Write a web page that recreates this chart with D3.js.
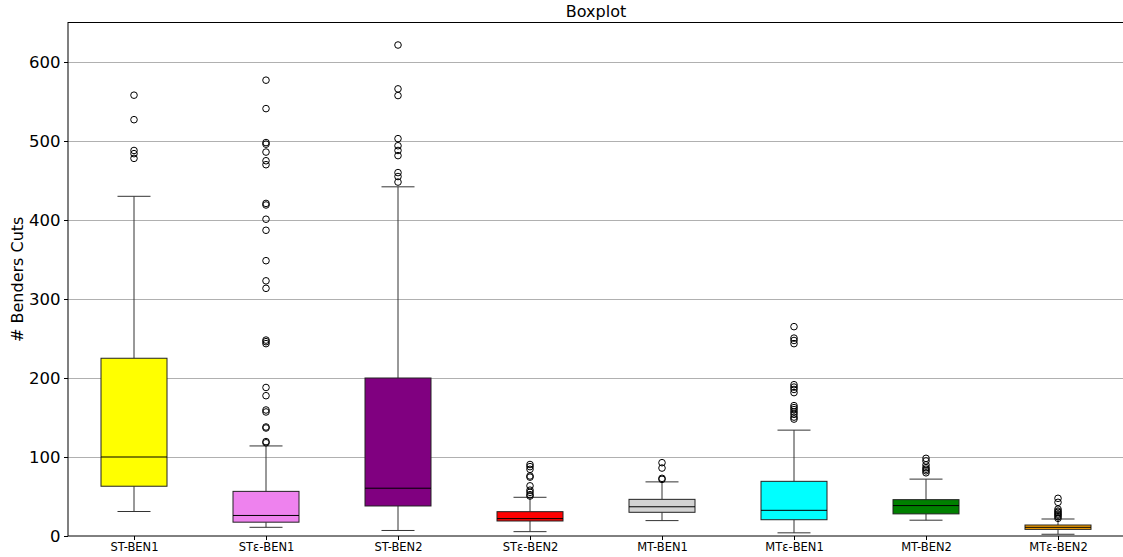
<!DOCTYPE html>
<html>
<head>
<meta charset="utf-8">
<script src="https://cdn.jsdelivr.net/npm/d3@7"></script>
<style>
  html, body { margin: 0; padding: 0; background: #fff; }
  svg { display: block; font-family: "DejaVu Sans", sans-serif; }
</style>
</head>
<body>
<svg id="chart" width="1123" height="557"></svg>
<script>
// Box statistics per method (number of Benders cuts)
const categories   = ["ST-BEN1", "STε-BEN1", "ST-BEN2", "STε-BEN2", "MT-BEN1", "MTε-BEN1", "MT-BEN2", "MTε-BEN2"];
const whiskerLow   = [31, 11, 7, 5.5, 19.5, 4, 20, 2.2];
const quartile1    = [63, 17.5, 38, 19, 30, 20.6, 28, 8.4];
const medians      = [100, 26, 60.5, 22, 37, 32.5, 38.5, 11];
const quartile3    = [225, 56.5, 200, 30.8, 46.4, 69.2, 46, 13.9];
const whiskerHigh  = [430, 114, 442, 49, 68.5, 134, 72, 21.5];
const outliers = [
  [558, 527, 488, 484, 478],
  [577, 541, 498, 496, 486, 475, 470, 421, 419, 401, 387, 348.5, 323, 313.5, 248, 246, 243.5, 188, 177.6, 159.5, 157, 138, 136.7, 119.5, 118],
  [621.5, 566, 557.5, 503, 494, 488, 481.5, 460, 455, 448],
  [90.5, 87.8, 84.4, 76, 74.5, 63.5, 58, 55.3, 52.3, 50.6],
  [92.8, 86, 73, 71.7],
  [265, 250.5, 247.5, 243.5, 191.5, 188.5, 185.5, 181.5, 165, 162.5, 160, 157, 154, 150.5, 148],
  [98.3, 95, 90, 86.5, 84.5, 82.5, 80],
  [47.7, 42.6, 34, 31.5, 30, 28, 26.5, 24.5, 22.4]
];
const boxColors = ["yellow", "violet", "purple", "red", "lightgray", "cyan", "green", "orange"];
const yTicks = [0, 100, 200, 300, 400, 500, 600];

const svg = d3.select("#chart");
const margin = { left: 68, top: 22.5, bottom: 536 };
const plotRight = 1124;

const x = d3.scaleLinear().domain([0.5, categories.length + 0.5]).range([margin.left, plotRight]);
const y = d3.scaleLinear().domain([0, 650]).range([margin.bottom, margin.top]);

const step = x(2) - x(1);
const boxW = step * 0.5;
const capW = boxW * 0.5;

// Horizontal grid
svg.append("g")
  .selectAll("line")
  .data(yTicks.filter(t => t > 0))
  .join("line")
  .attr("x1", margin.left).attr("x2", plotRight)
  .attr("y1", d => Math.round(y(d)) + 0.5).attr("y2", d => Math.round(y(d)) + 0.5)
  .attr("stroke", "#b0b0b0").attr("stroke-width", 1);

// Axes
const yAxis = d3.axisLeft(y).tickValues(yTicks).tickSize(4).tickPadding(3.5);
const gy = svg.append("g").attr("transform", `translate(${margin.left},0)`).call(yAxis);
gy.select(".domain").remove();
gy.selectAll("text").attr("font-size", 16.5).attr("font-family", "DejaVu Sans").attr("fill", "#000");
gy.selectAll("line").attr("stroke", "#000");

const xAxis = d3.axisBottom(x)
  .tickValues(d3.range(1, categories.length + 1))
  .tickFormat((d, i) => categories[i])
  .tickSize(4).tickPadding(3);
const gx = svg.append("g").attr("transform", `translate(0,${margin.bottom})`).call(xAxis);
gx.select(".domain").remove();
gx.selectAll("text").attr("font-size", 11.5).attr("font-family", "DejaVu Sans").attr("fill", "#000");
gx.selectAll("line").attr("stroke", "#000");

// Frame
svg.append("rect")
  .attr("x", margin.left).attr("y", margin.top)
  .attr("width", plotRight - margin.left).attr("height", margin.bottom - margin.top)
  .attr("fill", "none").attr("stroke", "#000").attr("stroke-width", 1);

// Boxes
const idx = d3.range(categories.length);
const g = svg.append("g");

// whiskers
g.selectAll(".wlo").data(idx).join("line")
  .attr("x1", i => x(i + 1)).attr("x2", i => x(i + 1))
  .attr("y1", i => y(quartile1[i])).attr("y2", i => y(whiskerLow[i]))
  .attr("stroke", "#333").attr("stroke-width", 1);
g.selectAll(".whi").data(idx).join("line")
  .attr("x1", i => x(i + 1)).attr("x2", i => x(i + 1))
  .attr("y1", i => y(quartile3[i])).attr("y2", i => y(whiskerHigh[i]))
  .attr("stroke", "#333").attr("stroke-width", 1);
// caps
g.selectAll(".clo").data(idx).join("line")
  .attr("x1", i => x(i + 1) - capW / 2).attr("x2", i => x(i + 1) + capW / 2)
  .attr("y1", i => y(whiskerLow[i])).attr("y2", i => y(whiskerLow[i]))
  .attr("stroke", "#333").attr("stroke-width", 1);
g.selectAll(".chi").data(idx).join("line")
  .attr("x1", i => x(i + 1) - capW / 2).attr("x2", i => x(i + 1) + capW / 2)
  .attr("y1", i => y(whiskerHigh[i])).attr("y2", i => y(whiskerHigh[i]))
  .attr("stroke", "#333").attr("stroke-width", 1);
// box body
g.selectAll(".box").data(idx).join("rect")
  .attr("x", i => x(i + 1) - boxW / 2)
  .attr("width", boxW)
  .attr("y", i => y(quartile3[i]))
  .attr("height", i => y(quartile1[i]) - y(quartile3[i]))
  .attr("fill", i => boxColors[i])
  .attr("stroke", "#222").attr("stroke-width", 1);
// medians
g.selectAll(".med").data(idx).join("line")
  .attr("x1", i => x(i + 1) - boxW / 2).attr("x2", i => x(i + 1) + boxW / 2)
  .attr("y1", i => y(medians[i])).attr("y2", i => y(medians[i]))
  .attr("stroke", "#000").attr("stroke-width", 1);
// fliers
idx.forEach(i => {
  g.append("g").selectAll("circle").data(outliers[i]).join("circle")
    .attr("cx", x(i + 1)).attr("cy", d => y(d)).attr("r", 3.3)
    .attr("fill", "none").attr("stroke", "#000").attr("stroke-width", 1);
});

// Title and y label
svg.append("text")
  .attr("x", (margin.left + plotRight) / 2).attr("y", 17)
  .attr("text-anchor", "middle").attr("font-size", 16).attr("fill", "#000")
  .text("Boxplot");
svg.append("text")
  .attr("transform", `translate(23,${(margin.top + margin.bottom) / 2}) rotate(-90)`)
  .attr("text-anchor", "middle").attr("font-size", 16).attr("fill", "#000")
  .text("# Benders Cuts");
</script>
</body>
</html>
